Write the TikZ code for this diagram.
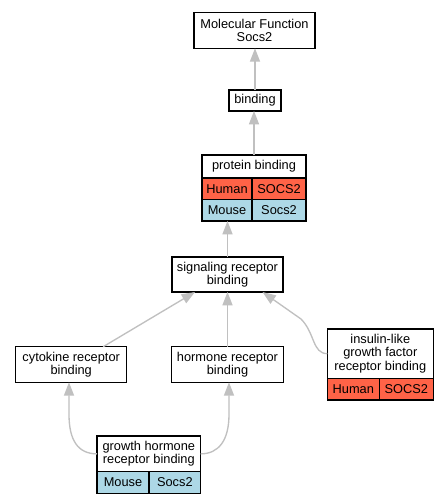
\documentclass[tikz,border=0pt]{standalone}
\usepackage{fontspec}
\setmainfont{Liberation Sans}
\usetikzlibrary{arrows.meta,calc}
\definecolor{edgegray}{RGB}{192,192,192}
\definecolor{human}{RGB}{255,99,71}
\definecolor{mouse}{RGB}{173,216,230}
\begin{document}
\begin{tikzpicture}[x=0.75pt,y=-0.75pt,
  every node/.style={font=\fontsize{9.6pt}{9.8pt}\selectfont, inner sep=0pt, outer sep=0pt, align=center},
  box/.style={draw=black, line width=1pt, fill=white, rectangle},
  cell/.style={draw=black, line width=0.8pt, rectangle},
  outline/.style={draw=black, line width=1pt, rectangle},
  edge/.style={draw=edgegray, line width=1pt, -{Triangle[length=10pt,width=7.5pt]}}]
\useasboundingbox (0,0) rectangle (448,504);
\fill[white] (0,0) rectangle (448,504);

% plain boxes
\node[box, minimum width=90.75pt, minimum height=27pt] (mf) at (254.5,30.3) {Molecular Function\\Socs2};
\node[box, minimum width=39pt, minimum height=15.75pt] (bind) at (255,100.5) {binding};
\node[box, minimum width=83.25pt, minimum height=26.25pt] (sig) at (227.5,274.5) {signaling receptor\\binding};
\node[box, minimum width=83.25pt, minimum height=26.7pt] (cyt) at (71.2,364.5) {cytokine receptor\\binding};
\node[box, minimum width=83.7pt, minimum height=26.7pt] (hor) at (227.5,364.5) {hormone receptor\\binding};

% protein binding table
\node[cell, fill=white, minimum width=78pt, minimum height=17.25pt] (pbtt) at (254,166.5) {protein binding};
\node[cell, fill=human, minimum width=37.5pt, minimum height=16.125pt] (pbh1) at (227,188.75) {Human};
\node[cell, fill=human, minimum width=40.5pt, minimum height=16.125pt] (pbh2) at (279,188.75) {SOCS2};
\node[cell, fill=mouse, minimum width=37.5pt, minimum height=16.125pt] (pbm1) at (227,210.25) {Mouse};
\node[cell, fill=mouse, minimum width=40.5pt, minimum height=16.125pt] (pbm2) at (279,210.25) {Socs2};
\node[outline, minimum width=78pt, minimum height=49.5pt] (pbt) at (254,188) {};

% insulin-like table
\node[cell, fill=white, minimum width=79.5pt, minimum height=37pt] (inst) at (380.3,353.65) {insulin-like\\growth factor\\receptor binding};
\node[cell, fill=human, minimum width=39pt, minimum height=16.3pt] (insh1) at (353.3,389.15) {Human};
\node[cell, fill=human, minimum width=40.5pt, minimum height=16.3pt] (insh2) at (406.3,389.15) {SOCS2};
\node[outline, minimum width=79.5pt, minimum height=53.25pt] (ins) at (380.3,364.5) {};

% growth hormone table
\node[cell, fill=white, minimum width=77.8pt, minimum height=26.8pt] (ght) at (148.85,453.85) {growth hormone\\receptor binding};
\node[cell, fill=mouse, minimum width=39pt, minimum height=16.2pt] (ghm1) at (123,482.5) {Mouse};
\node[cell, fill=mouse, minimum width=38.8pt, minimum height=16.2pt] (ghm2) at (174.85,482.5) {Socs2};
\node[outline, minimum width=77.8pt, minimum height=43pt] (gh) at (148.85,464.65) {};

% edges
\draw[edge] (bind.north) -- (bind.north |- mf.south);
\draw[edge] (pbt.north) -- (pbt.north |- bind.south);
\draw[edge] (sig.north) -- (sig.north |- pbt.south);
\draw[edge] (hor.north) -- (hor.north |- sig.south);
\draw[edge] ($(cyt.north)+(32,0)$) -- ($(sig.south)+(-32.5,0)$);
\draw[edge] (inst.west) .. controls +(-15,0) and (315,333) .. (301,319) -- ($(sig.south east)+(-20.5,0)$);
\draw[edge] (ght.west) .. controls +(-19,0) and ($(cyt.south)+(-2.2,58)$) .. ($(cyt.south)+(-2.2,32)$) -- ($(cyt.south)+(-2.2,0)$);
\draw[edge] (ght.east) .. controls +(18,0) and ($(hor.south)+(1.5,58)$) .. ($(hor.south)+(1.5,32)$) -- ($(hor.south)+(1.5,0)$);
\end{tikzpicture}
\end{document}
